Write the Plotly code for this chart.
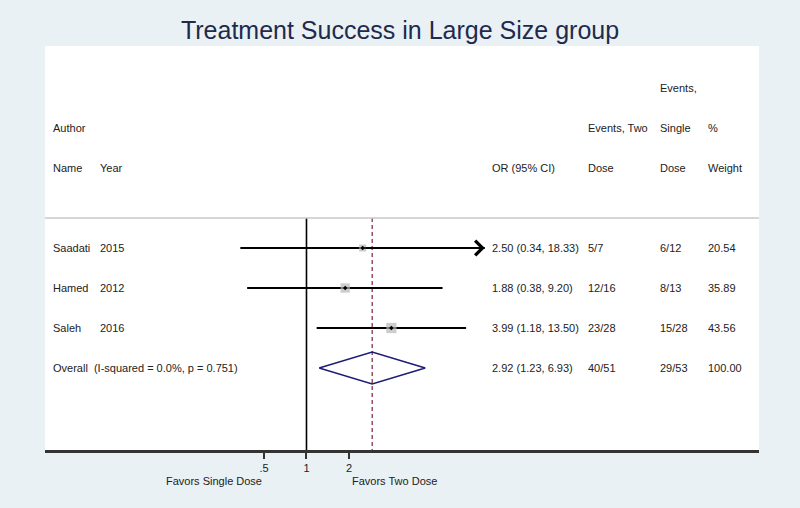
import numpy as np
import plotly.graph_objects as go

# ---- data ----
authors = ["Saadati", "Hamed", "Saleh"]
years = ["2015", "2012", "2016"]
odds = [2.50, 1.88, 3.99]
lower = [0.34, 0.38, 1.18]
upper = [18.33, 9.20, 13.50]
events_two = ["5/7", "12/16", "23/28"]
events_single = ["6/12", "8/13", "15/28"]
weights = [20.54, 35.89, 43.56]

overall_or = 2.92
overall_lo = 1.23
overall_hi = 6.93
overall_two = "40/51"
overall_single = "29/53"
overall_weight = 100.00
overall_label = "Overall  (I-squared = 0.0%, p = 0.751)"

tick_vals = [0.5, 1, 2]
tick_text = [".5", "1", "2"]

# ---- layout constants ----
FONT = "Liberation Sans, Arial, sans-serif"
TXT = "#222222"
BG = "#e9f1f4"
study_rows = [4, 5, 6]
overall_row = 7
sep_row = 3.25
y_bottom = 9.05
y_top = -1.05

fig = go.Figure()

# null line and overall dashed line
fig.add_trace(go.Scatter(x=[1, 1], y=[sep_row, y_bottom], mode="lines",
                         line=dict(color="black", width=1.6), hoverinfo="skip", showlegend=False))
fig.add_trace(go.Scatter(x=[overall_or, overall_or], y=[sep_row, y_bottom], mode="lines",
                         line=dict(color="#8b3045", width=1.3, dash="4px,3px"),
                         hoverinfo="skip", showlegend=False))

# CI lines
for lo, hi, r in zip(lower, upper, study_rows):
    fig.add_trace(go.Scatter(x=[lo, hi], y=[r, r], mode="lines",
                             line=dict(color="black", width=2), hoverinfo="skip", showlegend=False))

# weight squares
fig.add_trace(go.Scatter(x=odds, y=study_rows, mode="markers",
                         marker=dict(symbol="square", color="#b8b8b8",
                                     size=[1.55 * np.sqrt(w) for w in weights], line=dict(width=0)),
                         hoverinfo="skip", showlegend=False))
fig.add_trace(go.Scatter(x=odds, y=study_rows, mode="markers",
                         marker=dict(symbol="diamond", color="black", size=3.5),
                         hoverinfo="skip", showlegend=False))

# overall diamond
h = 0.4
fig.add_trace(go.Scatter(x=[overall_lo, overall_or, overall_hi, overall_or, overall_lo],
                         y=[overall_row, overall_row - h, overall_row, overall_row + h, overall_row],
                         mode="lines", line=dict(color="#1c1c78", width=1.5),
                         hoverinfo="skip", showlegend=False))

annotations = []

# arrow on truncated CI (Saadati)
annotations.append(dict(x=np.log10(upper[0]), y=study_rows[0], xref="x", yref="y",
                        ax=np.log10(odds[0]), ay=study_rows[0], axref="x", ayref="y",
                        text="", showarrow=True, arrowhead=4, arrowsize=2.2, arrowwidth=1.3,
                        arrowcolor="black", standoff=0))

shift = -0.0028
col_author = 0.0112 + shift
col_year = 0.077 + shift
col_or = 0.626 + shift
col_two = 0.7605 + shift
col_single = 0.861 + shift
col_weight = 0.9286 + shift


def txt(x, y, s):
    annotations.append(dict(x=x, y=y, xref="paper", yref="y", text=s, showarrow=False,
                            xanchor="left", yanchor="middle",
                            font=dict(family=FONT, size=11, color=TXT)))


# headers
txt(col_single, 0, "Events,")
txt(col_author, 1, "Author")
txt(col_two, 1, "Events, Two")
txt(col_single, 1, "Single")
txt(col_weight, 1, "%")
txt(col_author, 2, "Name")
txt(col_year, 2, "Year")
txt(col_or, 2, "OR (95% CI)")
txt(col_two, 2, "Dose")
txt(col_single, 2, "Dose")
txt(col_weight, 2, "Weight")

for i, r in enumerate(study_rows):
    txt(col_author, r, authors[i])
    txt(col_year, r, years[i])
    txt(col_or, r, f"{odds[i]:.2f} ({lower[i]:.2f}, {upper[i]:.2f})")
    txt(col_two, r, events_two[i])
    txt(col_single, r, events_single[i])
    txt(col_weight, r, f"{weights[i]:.2f}")

txt(col_author, overall_row, overall_label)
txt(col_or, overall_row, f"{overall_or:.2f} ({overall_lo:.2f}, {overall_hi:.2f})")
txt(col_two, overall_row, overall_two)
txt(col_single, overall_row, overall_single)
txt(col_weight, overall_row, f"{overall_weight:.2f}")

# favors labels (placed below the axis)
for xp, s in [(0.237, "Favors Single Dose"), (0.489, "Favors Two Dose")]:
    annotations.append(dict(x=xp, y=0, xref="paper", yref="paper", yshift=-31, text=s,
                            showarrow=False, xanchor="center", yanchor="middle",
                            font=dict(family=FONT, size=11, color=TXT)))

fig.update_layout(
    width=800, height=508,
    margin=dict(l=45, r=41, t=46, b=58),
    paper_bgcolor=BG, plot_bgcolor="white",
    title=dict(text="Treatment Success in Large Size group", x=0.5, xanchor="center",
               y=1 - 30 / 508, yanchor="middle",
               font=dict(family=FONT, size=25, color="#1f2a4d")),
    xaxis=dict(type="log", range=[-1.852, 3.205], showgrid=False, zeroline=False,
               showline=True, linecolor="#333333", linewidth=2.5, mirror=False,
               ticks="outside", ticklen=6, tickwidth=1.5, tickcolor="#333333",
               tickvals=tick_vals, ticktext=tick_text,
               tickfont=dict(family=FONT, size=11, color=TXT)),
    yaxis=dict(range=[y_bottom, y_top], showgrid=False, zeroline=False, showticklabels=False,
               showline=False, ticks=""),
    shapes=[dict(type="line", xref="paper", yref="y", x0=0, x1=1, y0=sep_row, y1=sep_row,
                 line=dict(color="#c8c8c8", width=1.5))],
    annotations=annotations,
)

fig.write_html("out.html", config={"displayModeBar": False},
               post_script="document.body.style.margin='0';document.body.style.overflow='hidden';")
